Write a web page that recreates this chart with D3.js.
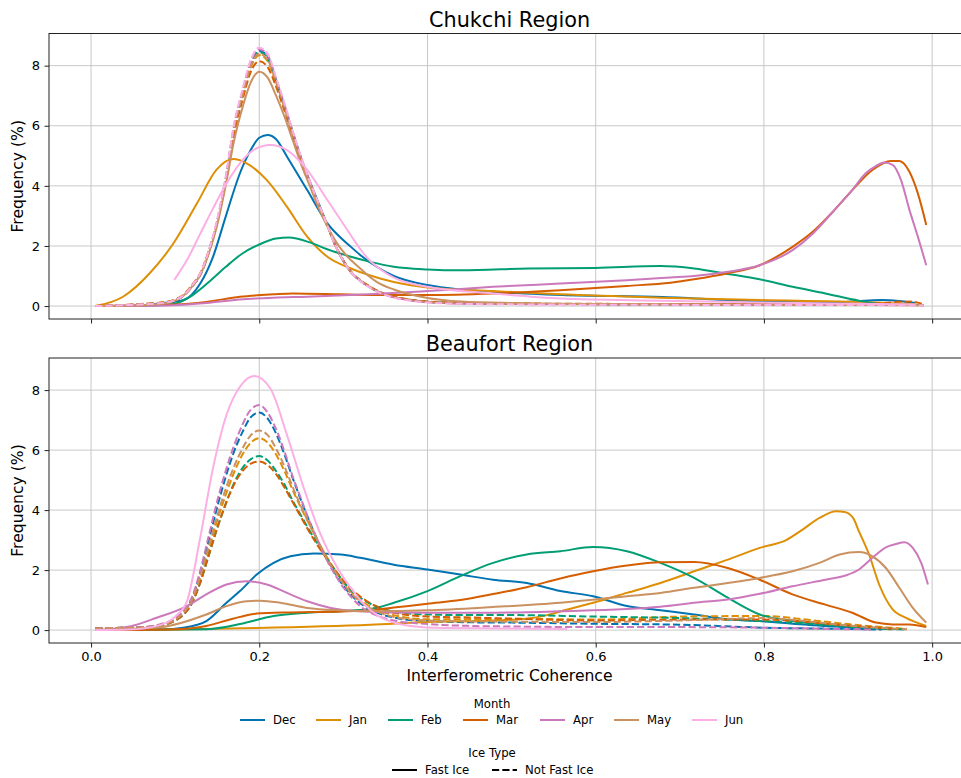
<!DOCTYPE html>
<html>
<head>
<meta charset="utf-8">
<script src="https://cdn.jsdelivr.net/npm/d3@7"></script>
<style>
  body { margin: 0; background: #fff; }
  svg { display: block; }
  text { font-family: "DejaVu Sans", sans-serif; fill: #000; }
</style>
</head>
<body>
<svg id="chart" width="961" height="778"></svg>
<script>
const months = ['Dec', 'Jan', 'Feb', 'Mar', 'Apr', 'May', 'Jun'];
const palette = ['#0173b2', '#de8f05', '#029e73', '#d55e00', '#cc78bc', '#ca9161', '#fbafe4'];
const iceTypes = ['Fast Ice', 'Not Fast Ice'];
const regions = ['Chukchi Region', 'Beaufort Region'];
const xTicks = [0, 0.2, 0.4, 0.6, 0.8, 1.0];
const yTicks = [0, 2, 4, 6, 8];

// [coherence, frequency %], one list per month (Dec..Jun)
const chukchiFast = [
  [[0.005,0],[0.06,0.02],[0.085,0.1],[0.11,0.2],[0.13,0.76],[0.145,1.64],[0.16,2.97],[0.177,4.42],[0.19,5.2],[0.2,5.6],[0.21,5.69],[0.22,5.55],[0.233,4.97],[0.257,3.86],[0.281,2.75],[0.309,1.97],[0.32,1.7],[0.34,1.3],[0.36,1.0],[0.4,0.7],[0.44,0.55],[0.48,0.47],[0.56,0.37],[0.68,0.3],[0.8,0.15],[0.88,0.12],[0.92,0.18],[0.94,0.2],[0.96,0.17],[0.98,0.1]],
  [[0.005,0],[0.038,0.31],[0.07,1.1],[0.098,2.09],[0.126,3.42],[0.149,4.53],[0.169,4.89],[0.185,4.75],[0.209,4.19],[0.233,3.3],[0.257,2.31],[0.281,1.64],[0.309,1.25],[0.332,1.02],[0.36,0.8],[0.4,0.62],[0.478,0.5],[0.558,0.39],[0.677,0.28],[0.795,0.2],[0.913,0.14],[0.98,0.05]],
  [[0.005,0],[0.07,0.02],[0.1,0.08],[0.12,0.35],[0.14,0.8],[0.16,1.3],[0.18,1.75],[0.2,2.05],[0.22,2.25],[0.235,2.28],[0.26,2.12],[0.28,1.9],[0.309,1.64],[0.332,1.47],[0.36,1.31],[0.4,1.22],[0.44,1.19],[0.52,1.25],[0.6,1.27],[0.677,1.33],[0.717,1.25],[0.757,1.07],[0.795,0.89],[0.834,0.64],[0.873,0.42],[0.913,0.18],[0.933,0.09],[0.95,0.05]],
  [[0.005,0],[0.1,0.05],[0.137,0.14],[0.177,0.31],[0.217,0.39],[0.24,0.42],[0.296,0.39],[0.33,0.37],[0.4,0.37],[0.478,0.42],[0.558,0.53],[0.637,0.67],[0.689,0.78],[0.717,0.89],[0.757,1.09],[0.795,1.36],[0.834,1.97],[0.858,2.47],[0.882,3.14],[0.905,3.86],[0.929,4.53],[0.951,4.83],[0.961,4.83],[0.973,4.47],[0.983,3.75],[0.993,2.7]],
  [[0.005,0],[0.098,0.03],[0.137,0.1],[0.177,0.22],[0.217,0.28],[0.257,0.31],[0.33,0.39],[0.4,0.5],[0.478,0.64],[0.558,0.75],[0.637,0.86],[0.689,0.95],[0.717,1.0],[0.757,1.14],[0.795,1.36],[0.834,1.86],[0.858,2.41],[0.882,3.14],[0.905,3.86],[0.921,4.42],[0.933,4.66],[0.943,4.78],[0.953,4.7],[0.963,4.19],[0.973,3.2],[0.983,2.31],[0.993,1.36]],
  [[0.005,0],[0.06,0.03],[0.09,0.1],[0.11,0.35],[0.12,0.65],[0.13,1.05],[0.14,1.75],[0.15,2.7],[0.16,4.0],[0.17,5.5],[0.18,6.6],[0.19,7.45],[0.2,7.8],[0.21,7.6],[0.22,7.0],[0.23,6.3],[0.24,5.5],[0.25,4.7],[0.26,4.0],[0.27,3.3],[0.28,2.7],[0.29,2.2],[0.3,1.8],[0.32,1.25],[0.33,1.0],[0.34,0.8],[0.36,0.55],[0.4,0.27],[0.44,0.15],[0.5,0.1],[0.6,0.07],[0.8,0.05],[0.99,0.03]],
  [[0.099,0.87],[0.114,1.53],[0.129,2.36],[0.145,3.25],[0.161,4.08],[0.177,4.75],[0.193,5.19],[0.213,5.36],[0.233,5.19],[0.257,4.53],[0.281,3.53],[0.309,2.35],[0.32,1.9],[0.332,1.5],[0.345,1.2],[0.36,0.95],[0.4,0.64],[0.478,0.42],[0.558,0.25],[0.677,0.18],[0.8,0.12],[0.9,0.08],[0.98,0.05]]
];

const chukchiNotFast = [
  [[0.005,0],[0.04,0.03],[0.07,0.07],[0.09,0.12],[0.1,0.2],[0.11,0.35],[0.12,0.65],[0.13,1.05],[0.14,1.8],[0.15,2.8],[0.16,4.2],[0.17,5.95],[0.18,7.1],[0.19,8.1],[0.2,8.5],[0.21,8.3],[0.22,7.5],[0.23,6.65],[0.24,5.75],[0.25,4.9],[0.26,4.15],[0.27,3.45],[0.28,2.75],[0.29,2.05],[0.3,1.5],[0.31,1.1],[0.32,0.85],[0.33,0.66],[0.34,0.5],[0.36,0.3],[0.38,0.2],[0.4,0.14],[0.45,0.09],[0.55,0.07],[0.7,0.06],[0.85,0.05],[0.95,0.05],[0.99,0.03]],
  [[0.005,0],[0.04,0.03],[0.07,0.08],[0.09,0.13],[0.1,0.21],[0.11,0.36],[0.12,0.67],[0.13,1.08],[0.14,1.82],[0.15,2.8],[0.16,4.15],[0.17,5.85],[0.18,7.0],[0.19,7.95],[0.2,8.35],[0.21,8.15],[0.22,7.4],[0.23,6.6],[0.24,5.7],[0.25,4.85],[0.26,4.1],[0.27,3.4],[0.28,2.75],[0.29,2.05],[0.3,1.5],[0.31,1.1],[0.32,0.85],[0.33,0.66],[0.34,0.5],[0.36,0.3],[0.38,0.2],[0.4,0.14],[0.45,0.09],[0.55,0.07],[0.7,0.06],[0.85,0.06],[0.95,0.06],[0.99,0.04]],
  [[0.005,0],[0.04,0.03],[0.07,0.07],[0.09,0.12],[0.1,0.2],[0.11,0.35],[0.12,0.65],[0.13,1.05],[0.14,1.8],[0.15,2.8],[0.16,4.2],[0.17,5.9],[0.18,7.05],[0.19,8.05],[0.2,8.45],[0.21,8.25],[0.22,7.5],[0.23,6.65],[0.24,5.75],[0.25,4.9],[0.26,4.15],[0.27,3.45],[0.28,2.75],[0.29,2.05],[0.3,1.5],[0.31,1.1],[0.32,0.85],[0.33,0.66],[0.34,0.5],[0.36,0.3],[0.38,0.2],[0.4,0.14],[0.45,0.09],[0.55,0.07],[0.7,0.06],[0.85,0.05],[0.95,0.04],[0.99,0.03]],
  [[0.005,0],[0.04,0.04],[0.07,0.09],[0.09,0.14],[0.1,0.22],[0.11,0.38],[0.12,0.7],[0.13,1.1],[0.14,1.85],[0.15,2.8],[0.16,4.1],[0.17,5.7],[0.18,6.85],[0.19,7.8],[0.2,8.15],[0.21,7.95],[0.22,7.3],[0.23,6.5],[0.24,5.65],[0.25,4.85],[0.26,4.1],[0.27,3.4],[0.28,2.75],[0.29,2.05],[0.3,1.52],[0.31,1.12],[0.32,0.87],[0.33,0.68],[0.34,0.52],[0.36,0.32],[0.38,0.21],[0.4,0.15],[0.45,0.1],[0.55,0.08],[0.7,0.07],[0.85,0.07],[0.93,0.08],[0.96,0.14],[0.975,0.15],[0.99,0.06]],
  [[0.005,0],[0.04,0.03],[0.07,0.07],[0.09,0.12],[0.1,0.2],[0.11,0.35],[0.12,0.65],[0.13,1.05],[0.14,1.8],[0.15,2.85],[0.16,4.25],[0.17,6.0],[0.18,7.15],[0.19,8.15],[0.2,8.55],[0.21,8.35],[0.22,7.55],[0.23,6.7],[0.24,5.8],[0.25,4.9],[0.26,4.15],[0.27,3.45],[0.28,2.75],[0.29,2.05],[0.3,1.5],[0.31,1.1],[0.32,0.84],[0.33,0.65],[0.34,0.49],[0.36,0.29],[0.38,0.19],[0.4,0.13],[0.45,0.08],[0.55,0.06],[0.7,0.05],[0.85,0.04],[0.95,0.04],[0.99,0.02]],
  [[0.005,0],[0.04,0.03],[0.07,0.07],[0.09,0.12],[0.1,0.2],[0.11,0.35],[0.12,0.66],[0.13,1.06],[0.14,1.8],[0.15,2.8],[0.16,4.15],[0.17,5.9],[0.18,7.0],[0.19,8.0],[0.2,8.4],[0.21,8.2],[0.22,7.45],[0.23,6.6],[0.24,5.7],[0.25,4.9],[0.26,4.15],[0.27,3.45],[0.28,2.75],[0.29,2.05],[0.3,1.5],[0.31,1.1],[0.32,0.85],[0.33,0.66],[0.34,0.5],[0.36,0.3],[0.38,0.2],[0.4,0.14],[0.45,0.09],[0.55,0.07],[0.7,0.06],[0.85,0.05],[0.95,0.05],[0.99,0.03]],
  [[0.005,0],[0.04,0.03],[0.07,0.07],[0.09,0.12],[0.1,0.2],[0.11,0.36],[0.12,0.68],[0.13,1.1],[0.14,1.85],[0.15,2.9],[0.16,4.3],[0.17,6.05],[0.18,7.2],[0.19,8.2],[0.2,8.6],[0.21,8.4],[0.22,7.6],[0.23,6.75],[0.24,5.8],[0.25,4.95],[0.26,4.15],[0.27,3.45],[0.28,2.75],[0.29,2.05],[0.3,1.5],[0.31,1.1],[0.32,0.84],[0.33,0.64],[0.34,0.48],[0.36,0.28],[0.38,0.18],[0.4,0.12],[0.45,0.07],[0.55,0.05],[0.7,0.04],[0.85,0.04],[0.95,0.03],[0.99,0.02]]
];

const beaufortFast = [
  [[0.005,0],[0.083,0.02],[0.11,0.08],[0.137,0.3],[0.161,0.91],[0.177,1.3],[0.197,1.85],[0.217,2.24],[0.237,2.46],[0.265,2.55],[0.297,2.52],[0.32,2.41],[0.36,2.18],[0.4,2.02],[0.439,1.85],[0.478,1.68],[0.518,1.57],[0.558,1.3],[0.597,1.13],[0.637,0.8],[0.677,0.66],[0.717,0.52],[0.757,0.36],[0.795,0.3],[0.854,0.17],[0.913,0.08],[0.953,0.03]],
  [[0.005,0],[0.1,0.02],[0.197,0.07],[0.332,0.18],[0.4,0.27],[0.478,0.32],[0.518,0.38],[0.542,0.5],[0.558,0.62],[0.597,0.91],[0.637,1.24],[0.677,1.57],[0.717,1.96],[0.757,2.35],[0.795,2.74],[0.827,3.01],[0.846,3.35],[0.866,3.74],[0.886,3.96],[0.896,3.94],[0.906,3.74],[0.913,3.29],[0.925,2.52],[0.937,1.52],[0.953,0.69],[0.969,0.41],[0.993,0.14]],
  [[0.005,0],[0.137,0.03],[0.177,0.2],[0.217,0.47],[0.257,0.58],[0.297,0.63],[0.332,0.7],[0.36,0.91],[0.4,1.3],[0.439,1.8],[0.478,2.24],[0.518,2.52],[0.558,2.63],[0.597,2.77],[0.637,2.63],[0.677,2.24],[0.717,1.74],[0.757,1.08],[0.795,0.52],[0.834,0.3],[0.873,0.19],[0.913,0.1],[0.967,0.02]],
  [[0.005,0],[0.1,0.03],[0.137,0.14],[0.161,0.32],[0.177,0.44],[0.197,0.55],[0.237,0.59],[0.297,0.62],[0.332,0.66],[0.36,0.75],[0.4,0.88],[0.439,1.0],[0.478,1.2],[0.518,1.43],[0.558,1.72],[0.597,1.96],[0.637,2.15],[0.677,2.26],[0.717,2.27],[0.757,2.07],[0.795,1.68],[0.834,1.19],[0.873,0.85],[0.905,0.58],[0.933,0.25],[0.953,0.19],[0.973,0.19],[0.993,0.1]],
  [[0.005,0],[0.046,0.12],[0.078,0.41],[0.114,0.8],[0.137,1.19],[0.161,1.52],[0.185,1.63],[0.209,1.52],[0.233,1.24],[0.257,0.96],[0.285,0.74],[0.317,0.63],[0.4,0.58],[0.478,0.58],[0.558,0.63],[0.677,0.78],[0.717,0.91],[0.757,1.02],[0.795,1.21],[0.834,1.46],[0.873,1.68],[0.897,1.82],[0.913,2.02],[0.929,2.41],[0.945,2.76],[0.957,2.87],[0.967,2.93],[0.977,2.74],[0.987,2.24],[0.995,1.52]],
  [[0.005,0],[0.083,0.1],[0.137,0.52],[0.161,0.8],[0.185,0.96],[0.201,0.98],[0.225,0.91],[0.257,0.74],[0.297,0.66],[0.332,0.63],[0.4,0.66],[0.478,0.77],[0.558,0.91],[0.637,1.13],[0.677,1.24],[0.717,1.41],[0.757,1.57],[0.795,1.74],[0.834,1.96],[0.866,2.24],[0.89,2.52],[0.913,2.6],[0.929,2.46],[0.945,2.07],[0.961,1.41],[0.977,0.74],[0.993,0.25]],
  [[0.005,0],[0.046,0.02],[0.08,0.15],[0.1,0.45],[0.114,0.96],[0.129,2.96],[0.145,5.4],[0.161,7.17],[0.177,8.11],[0.194,8.47],[0.213,8.06],[0.233,6.5],[0.253,4.73],[0.273,3.18],[0.293,2.07],[0.313,1.25],[0.325,0.85],[0.34,0.5],[0.36,0.25],[0.38,0.14],[0.42,0.07],[0.5,0.05],[0.566,0.04]]
];

const beaufortNotFast = [
  [[0.005,0.05],[0.03,0.07],[0.06,0.09],[0.08,0.16],[0.1,0.37],[0.11,0.6],[0.12,1.05],[0.13,1.9],[0.14,3.0],[0.15,4.1],[0.16,5.1],[0.17,5.95],[0.18,6.6],[0.19,7.1],[0.2,7.25],[0.21,7.05],[0.22,6.55],[0.23,5.85],[0.24,5.05],[0.25,4.3],[0.26,3.6],[0.27,2.95],[0.28,2.4],[0.29,1.9],[0.3,1.48],[0.31,1.15],[0.32,0.9],[0.34,0.58],[0.36,0.42],[0.4,0.3],[0.45,0.26],[0.5,0.25],[0.6,0.21],[0.7,0.18],[0.8,0.08],[0.9,0.04],[0.94,0.02]],
  [[0.005,0.05],[0.03,0.07],[0.06,0.09],[0.08,0.15],[0.1,0.35],[0.11,0.56],[0.12,0.95],[0.13,1.75],[0.14,2.7],[0.15,3.65],[0.16,4.5],[0.17,5.25],[0.18,5.85],[0.19,6.25],[0.2,6.4],[0.21,6.25],[0.22,5.85],[0.23,5.3],[0.24,4.65],[0.25,4.05],[0.26,3.5],[0.27,2.95],[0.28,2.45],[0.29,2.0],[0.3,1.6],[0.31,1.25],[0.32,1.0],[0.34,0.68],[0.36,0.5],[0.4,0.36],[0.45,0.36],[0.5,0.38],[0.6,0.35],[0.7,0.45],[0.8,0.47],[0.85,0.35],[0.9,0.2],[0.95,0.08],[0.97,0.04]],
  [[0.005,0.05],[0.03,0.07],[0.06,0.09],[0.08,0.14],[0.1,0.32],[0.11,0.52],[0.12,0.9],[0.13,1.6],[0.14,2.5],[0.15,3.4],[0.16,4.2],[0.17,4.9],[0.18,5.4],[0.19,5.7],[0.2,5.8],[0.21,5.65],[0.22,5.3],[0.23,4.85],[0.24,4.3],[0.25,3.8],[0.26,3.3],[0.27,2.85],[0.28,2.4],[0.29,2.0],[0.3,1.62],[0.31,1.3],[0.32,1.08],[0.34,0.78],[0.36,0.62],[0.4,0.52],[0.45,0.5],[0.5,0.5],[0.6,0.45],[0.7,0.4],[0.8,0.3],[0.9,0.12],[0.95,0.03]],
  [[0.005,0.05],[0.03,0.07],[0.06,0.09],[0.08,0.14],[0.1,0.32],[0.11,0.52],[0.12,0.9],[0.13,1.6],[0.14,2.5],[0.15,3.4],[0.16,4.2],[0.17,4.85],[0.18,5.3],[0.19,5.55],[0.2,5.62],[0.21,5.5],[0.22,5.2],[0.23,4.75],[0.24,4.25],[0.25,3.75],[0.26,3.25],[0.27,2.8],[0.28,2.38],[0.29,2.0],[0.3,1.65],[0.31,1.35],[0.32,1.12],[0.34,0.78],[0.36,0.58],[0.4,0.45],[0.45,0.42],[0.5,0.38],[0.6,0.32],[0.7,0.35],[0.8,0.35],[0.9,0.15],[0.96,0.03]],
  [[0.005,0.05],[0.03,0.07],[0.06,0.1],[0.08,0.18],[0.1,0.4],[0.11,0.65],[0.12,1.1],[0.13,2.0],[0.14,3.15],[0.15,4.3],[0.16,5.3],[0.17,6.15],[0.18,6.85],[0.19,7.35],[0.2,7.5],[0.21,7.25],[0.22,6.7],[0.23,5.95],[0.24,5.1],[0.25,4.35],[0.26,3.6],[0.27,2.95],[0.28,2.35],[0.29,1.85],[0.3,1.42],[0.31,1.08],[0.32,0.8],[0.34,0.48],[0.36,0.32],[0.4,0.2],[0.45,0.14],[0.5,0.12],[0.6,0.1],[0.7,0.1],[0.8,0.08],[0.9,0.03],[0.93,0.02]],
  [[0.005,0.05],[0.03,0.07],[0.06,0.09],[0.08,0.15],[0.1,0.35],[0.11,0.58],[0.12,1.0],[0.13,1.8],[0.14,2.8],[0.15,3.8],[0.16,4.7],[0.17,5.45],[0.18,6.05],[0.19,6.5],[0.2,6.65],[0.21,6.5],[0.22,6.05],[0.23,5.45],[0.24,4.75],[0.25,4.1],[0.26,3.5],[0.27,2.95],[0.28,2.4],[0.29,1.95],[0.3,1.55],[0.31,1.2],[0.32,0.95],[0.34,0.62],[0.36,0.44],[0.4,0.32],[0.45,0.29],[0.5,0.28],[0.6,0.27],[0.7,0.32],[0.8,0.4],[0.85,0.3],[0.9,0.15],[0.97,0.03]],
  null
];

const svg = d3.select('#chart');
const margin = { left: 49, right: 970 },
  panels = [
    { title: regions[0], top: 33.5, bottom: 319, fast: chukchiFast, notFast: chukchiNotFast, labels: false },
    { title: regions[1], top: 358, bottom: 643, fast: beaufortFast, notFast: beaufortNotFast, labels: true }
  ],
  dash = '7.2,3.1';

const x = d3.scaleLinear().domain([-0.05, 1.045]).range([margin.left, margin.right]);

svg.append('defs').selectAll('clipPath')
  .data(panels)
  .join('clipPath')
  .attr('id', (d, i) => `clip${i}`)
  .append('rect')
  .attr('x', margin.left)
  .attr('y', d => d.top)
  .attr('width', margin.right - margin.left)
  .attr('height', d => d.bottom - d.top);

panels.forEach((p, i) => {
  const y = d3.scaleLinear().domain([-0.43, 9.07]).range([p.bottom, p.top]);
  const g = svg.append('g');

  // grid
  g.append('g').selectAll('line')
    .data(xTicks)
    .join('line')
    .attr('x1', d => x(d)).attr('x2', d => x(d))
    .attr('y1', p.top).attr('y2', p.bottom)
    .attr('stroke', '#c8c8c8').attr('stroke-width', 1);
  g.append('g').selectAll('line')
    .data(yTicks)
    .join('line')
    .attr('x1', margin.left).attr('x2', margin.right)
    .attr('y1', d => y(d)).attr('y2', d => y(d))
    .attr('stroke', '#c8c8c8').attr('stroke-width', 1);

  const line = d3.line()
    .x(d => x(d[0]))
    .y(d => y(d[1]))
    .curve(d3.curveMonotoneX);

  const series = [];
  months.forEach((m, k) => {
    if (p.fast[k]) series.push({ month: k, dashed: false, values: p.fast[k] });
    if (p.notFast[k]) series.push({ month: k, dashed: true, values: p.notFast[k] });
  });

  g.append('g')
    .attr('clip-path', `url(#clip${i})`)
    .selectAll('path')
    .data(series)
    .join('path')
    .attr('d', d => line(d.values))
    .attr('fill', 'none')
    .attr('stroke', d => palette[d.month])
    .attr('stroke-width', 2)
    .attr('stroke-linejoin', 'round')
    .attr('stroke-dasharray', d => (d.dashed ? dash : null));

  // frame
  g.append('rect')
    .attr('x', margin.left).attr('y', p.top)
    .attr('width', margin.right - margin.left).attr('height', p.bottom - p.top)
    .attr('fill', 'none').attr('stroke', '#222').attr('stroke-width', 1);

  // axes
  const xAxis = d3.axisBottom(x).tickValues(xTicks).tickSize(4.5).tickPadding(4.5)
    .tickFormat(p.labels ? d3.format('.1f') : '');
  const gx = g.append('g').attr('transform', `translate(0,${p.bottom})`).call(xAxis);
  gx.select('.domain').remove();
  gx.selectAll('line').attr('stroke', '#222');
  gx.selectAll('text').attr('font-size', 13).attr('font-family', 'DejaVu Sans');

  const yAxis = d3.axisLeft(y).tickValues(yTicks).tickSize(4.5).tickPadding(4.5);
  const gy = g.append('g').attr('transform', `translate(${margin.left},0)`).call(yAxis);
  gy.select('.domain').remove();
  gy.selectAll('line').attr('stroke', '#222');
  gy.selectAll('text').attr('font-size', 13).attr('font-family', 'DejaVu Sans');

  g.append('text')
    .attr('x', (margin.left + margin.right) / 2)
    .attr('y', p.top - 7)
    .attr('text-anchor', 'middle')
    .attr('font-size', 20.8)
    .text(p.title);

  g.append('text')
    .attr('transform', `translate(23,${(p.top + p.bottom) / 2}) rotate(-90)`)
    .attr('text-anchor', 'middle')
    .attr('font-size', 15.6)
    .text('Frequency (%)');
});

svg.append('text')
  .attr('x', (margin.left + margin.right) / 2)
  .attr('y', 681)
  .attr('text-anchor', 'middle')
  .attr('font-size', 15.6)
  .text('Interferometric Coherence');

// legends
const legendMonthX = [240, 316, 388, 463, 540, 614, 692];
const lg = svg.append('g').attr('font-size', 11.7);
lg.append('text').attr('x', 492).attr('y', 708).attr('text-anchor', 'middle').attr('font-size', 11.7).text('Month');
const items = lg.selectAll('g.m')
  .data(months)
  .join('g')
  .attr('class', 'm')
  .attr('transform', (d, i) => `translate(${legendMonthX[i]},720)`);
items.append('line').attr('x1', 0).attr('x2', 25).attr('stroke', (d, i) => palette[i]).attr('stroke-width', 2);
items.append('text').attr('x', 33).attr('y', 4.2).attr('font-size', 11.7).text(d => d);

lg.append('text').attr('x', 492).attr('y', 757).attr('text-anchor', 'middle').attr('font-size', 11.7).text('Ice Type');
const iceX = [392, 492];
const iceItems = lg.selectAll('g.ice')
  .data(iceTypes)
  .join('g')
  .attr('class', 'ice')
  .attr('transform', (d, i) => `translate(${iceX[i]},770)`);
iceItems.append('line').attr('x1', 0).attr('x2', 25).attr('stroke', '#000').attr('stroke-width', 2)
  .attr('stroke-dasharray', (d, i) => (i ? dash : null));
iceItems.append('text').attr('x', 33).attr('y', 4.2).attr('font-size', 11.7).text(d => d);
</script>
</body>
</html>
